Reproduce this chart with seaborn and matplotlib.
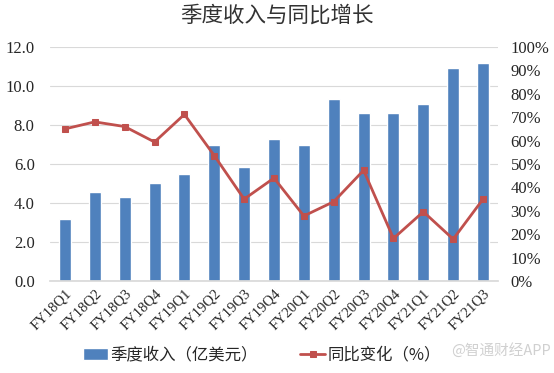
import numpy as np
import pandas as pd
import matplotlib
matplotlib.use("Agg")
import matplotlib.pyplot as plt
import seaborn as sns
from matplotlib.ticker import PercentFormatter, FormatStrFormatter

# data
quarters = ["FY18Q1", "FY18Q2", "FY18Q3", "FY18Q4", "FY19Q1", "FY19Q2", "FY19Q3", "FY19Q4",
            "FY20Q1", "FY20Q2", "FY20Q3", "FY20Q4", "FY21Q1", "FY21Q2", "FY21Q3"]
revenue = [3.2, 4.55, 4.3, 5.03, 5.49, 6.97, 5.86, 7.26, 7.0, 9.35, 8.6, 8.6, 9.08, 10.94, 11.16]
yoy = [65.0, 68.0, 66.0, 59.4, 71.2, 53.6, 35.0, 44.0, 27.8, 33.9, 47.3, 18.2, 29.6, 17.9, 35.0]

df = pd.DataFrame({"quarter": quarters, "revenue": revenue, "yoy": yoy})
df["pos"] = np.arange(len(df))

sns.set_theme(style="white")
plt.rcParams["font.family"] = ["Liberation Serif", "Noto Sans CJK SC"]

blue = "#4f81bd"
red = "#c0504d"

fig = plt.figure(figsize=(5.54, 3.73), dpi=100)
ax = fig.add_axes([50 / 554, 1 - 281 / 373, 448 / 554, 234 / 373])

sns.barplot(data=df, x="quarter", y="revenue", color=blue, width=0.4,
            saturation=1, ax=ax, label="季度收入（亿美元）", zorder=2)
ax.set_ylim(0, 12)
ax.set_xlim(-0.5, len(df) - 0.5)
ax.set_yticks(np.arange(0, 12.1, 2))
ax.yaxis.set_major_formatter(FormatStrFormatter("%.1f"))
ax.grid(axis="y", color="#d9d9d9", linewidth=0.8, zorder=0)
ax.set_axisbelow(True)
ax.set_xlabel("")
ax.set_ylabel("")
for s in ["top", "right", "left"]:
    ax.spines[s].set_visible(False)
ax.spines["bottom"].set_color("#d9d9d9")
ax.tick_params(axis="y", length=0, pad=11, labelsize=12)
ax.tick_params(axis="x", length=0, pad=4, labelsize=10.5)
plt.setp(ax.get_xticklabels(), rotation=45, ha="right", rotation_mode="anchor")

ax2 = ax.twinx()
sns.lineplot(data=df, x="pos", y="yoy", color=red, marker="s", markersize=5,
             markeredgecolor=red, linewidth=2, ax=ax2, label="同比变化（%）")
ax2.set_ylim(0, 100)
ax2.set_yticks(np.arange(0, 101, 10))
ax2.yaxis.set_major_formatter(PercentFormatter(decimals=0))
ax2.set_ylabel("")
ax2.set_xlabel("")
for s in ax2.spines.values():
    s.set_visible(False)
ax2.tick_params(axis="y", length=0, pad=9, labelsize=12)
ax2.set_xlim(-0.5, len(df) - 0.5)

h1, l1 = ax.get_legend_handles_labels()
h2, l2 = ax2.get_legend_handles_labels()
if ax.get_legend():
    ax.get_legend().remove()
if ax2.get_legend():
    ax2.get_legend().remove()
fig.legend(h1 + h2, l1 + l2, loc="center", bbox_to_anchor=(0.473, 1 - 355 / 373),
           ncol=2, frameon=False, handlelength=1.5, handletextpad=0.15,
           columnspacing=2.6, prop={"family": "Noto Sans CJK SC", "size": 11.8})

fig.text(0.5, 1 - 16 / 373, "季度收入与同比增长", ha="center", va="center",
         fontsize=15.5, family="Noto Sans CJK SC", color="#333333")
fig.text(0.995, 1 - 350 / 373, "@智通财经APP", ha="right", va="center",
         fontsize=10.5, family="Noto Sans CJK SC", color="#d0d0d0")

fig.savefig("out.png", dpi=100)
